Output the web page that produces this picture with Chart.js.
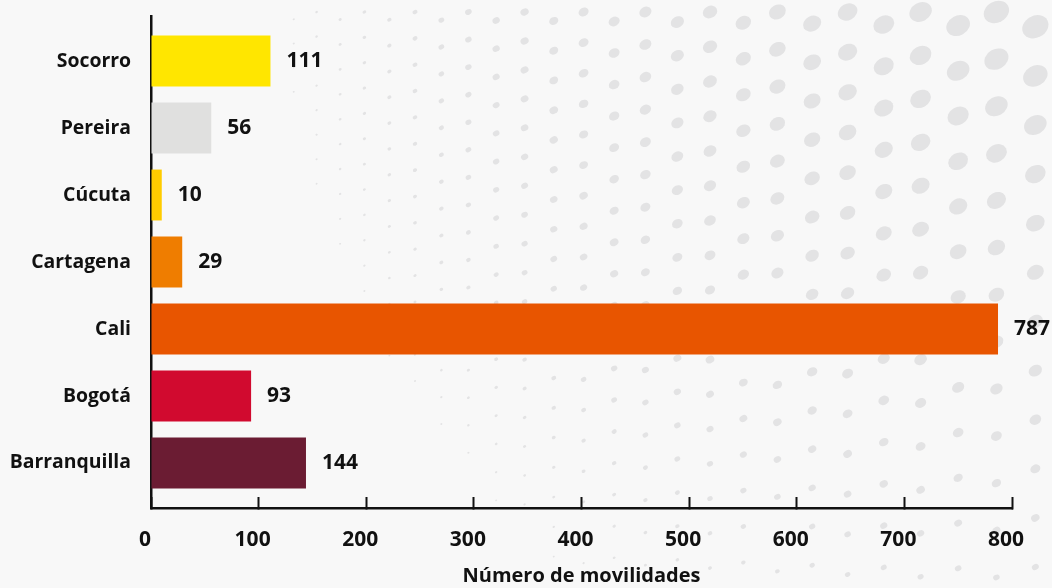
<!DOCTYPE html>
<html><head><meta charset="utf-8">
<script src="https://cdn.jsdelivr.net/npm/chart.js@4.4.1/dist/chart.umd.min.js"></script>
<style>html,body{margin:0;padding:0;background:#f8f8f8;}#wrap{width:1052px;height:588px;position:relative}</style>
</head><body><div id="wrap"><canvas id="c" width="1052" height="588"></canvas></div>
<script>
const categories = ['Socorro','Pereira','Cúcuta','Cartagena','Cali','Bogotá','Barranquilla'];
const values = [111, 56, 10, 29, 787, 93, 144];
const barColors = ['#FFE600','#E0E0DF','#FFCC00','#EF7D00','#E85500','#D10A2F','#6B1C33'];
const xTicks = [0, 100, 200, 300, 400, 500, 600, 700, 800];
const xTitle = 'Número de movilidades';

const FONT = '"Open Sans", "Noto Sans", sans-serif';
const INK = '#111111';

const bgPlugin = {
  id: 'bg',
  beforeDraw(chart) {
    const ctx = chart.ctx;
    ctx.save();
    ctx.fillStyle = '#f8f8f8';
    ctx.fillRect(0, 0, chart.width, chart.height);
    ctx.fillStyle = '#e3e3e4';
    for (let i = 0; i < 34; i++) {
      const x = 1075 - i * 40 + i * i * 0.35;
      if (x < 0) break;
      const fx = x / 1052;
      const dy = 22 + 28 * fx * fx;
      for (let j = 0; j < 30; j++) {
        const y = 12 + j * dy + (i % 2) * dy * 0.3;
        if (y > 600) break;
        const d = Math.hypot(1100 - x, y + 50);
        const t = 1 - d / 950;
        if (t <= 0) continue;
        const r = 16 * Math.pow(t, 1.4);
        if (r < 1) continue;
        ctx.beginPath();
        ctx.ellipse(x, y, r, r * 0.8, -0.5, 0, Math.PI * 2);
        ctx.fill();
      }
    }
    ctx.restore();
  }
};

const valueLabels = {
  id: 'valueLabels',
  afterDatasetsDraw(chart) {
    const ctx = chart.ctx;
    const meta = chart.getDatasetMeta(0);
    ctx.save();
    ctx.font = 'bold 21px ' + FONT;
    ctx.fillStyle = INK;
    ctx.textBaseline = 'middle';
    ctx.textAlign = 'left';
    meta.data.forEach((el, i) => {
      ctx.fillText(String(values[i]), el.x + 16, el.y);
    });
    ctx.restore();
  }
};

new Chart(document.getElementById('c'), {
  type: 'bar',
  data: {
    datasets: [{
      data: values.map((v, i) => ({ x: v, y: i })),
      backgroundColor: barColors,
      borderWidth: 0,
      barPercentage: 0.76,
      categoryPercentage: 1
    }]
  },
  options: {
    indexAxis: 'y',
    responsive: false,
    animation: false,
    devicePixelRatio: 1,
    layout: { padding: { top: 16, right: 40, left: 0, bottom: 0 } },
    plugins: { legend: { display: false }, tooltip: { enabled: false } },
    scales: {
      y: {
        type: 'linear',
        reverse: true,
        offset: false,
        min: -0.672,
        max: 6.672,
        afterBuildTicks: s => { s.ticks = categories.map((_, i) => ({ value: i })); },
        afterFit: s => { s.width = 151; s.paddingTop = 0; s.paddingBottom = 0; },
        grid: { display: true, offset: false, drawOnChartArea: false, drawTicks: false },
        border: { display: true, color: INK, width: 2.5 },
        ticks: {
          autoSkip: false,
          padding: 20,
          color: INK,
          font: { family: FONT, size: 19.4, weight: 'bold' },
          callback: v => categories[v]
        }
      },
      x: {
        type: 'linear',
        position: 'bottom',
        min: 0,
        max: 800,
        afterBuildTicks: s => { s.ticks = xTicks.map(v => ({ value: v })); },
        afterFit: s => { s.height = 80; s.paddingLeft = 0; s.paddingRight = 0; },
        grid: { display: true, drawOnChartArea: false, drawTicks: true, tickLength: -11, tickWidth: 2, tickColor: INK },
        border: { display: true, color: INK, width: 2.5 },
        ticks: {
          autoSkip: false,
          maxRotation: 0,
          padding: 30,
          labelOffset: -6,
          color: INK,
          font: { family: FONT, size: 21, weight: 'bold' },
          callback: v => String(v)
        },
        title: {
          display: true,
          text: xTitle,
          color: INK,
          font: { family: FONT, size: 20, weight: 'bold' },
          padding: { top: 0, bottom: 0 }
        }
      }
    }
  },
  plugins: [bgPlugin, valueLabels]
});
</script>
</body></html>
